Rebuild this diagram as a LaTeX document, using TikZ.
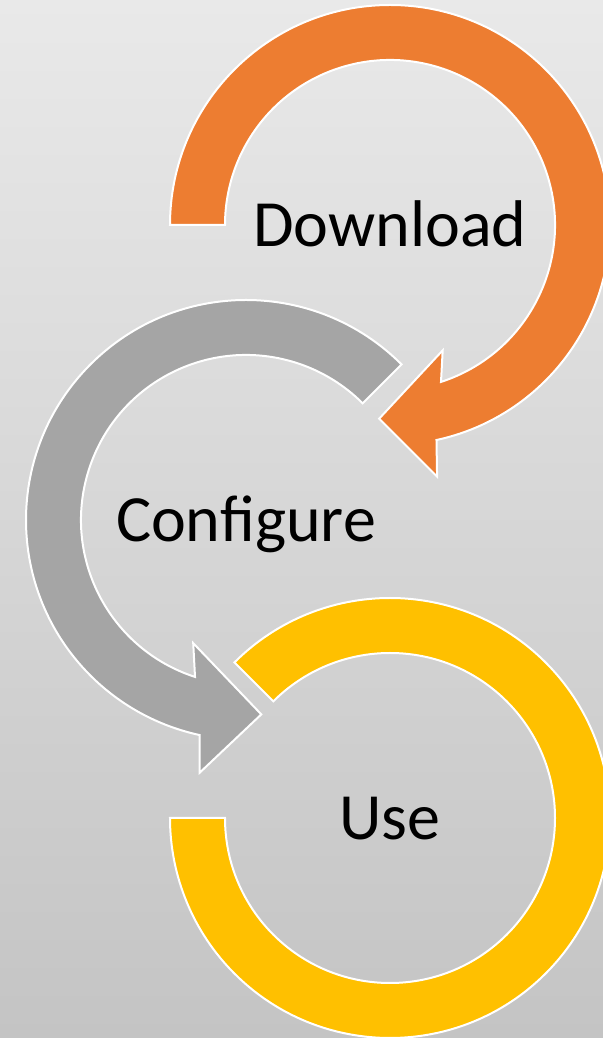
\documentclass[tikz,border=0pt]{standalone}
\usepackage{fontspec}
\setmainfont{Carlito}
\definecolor{dlorange}{HTML}{ED7D31}
\definecolor{cfgray}{HTML}{A5A5A5}
\definecolor{usyellow}{HTML}{FFC000}
\definecolor{bgtop}{HTML}{E9E9E9}
\definecolor{bgbottom}{HTML}{C4C4C4}

\begin{document}
\begin{tikzpicture}[x=0.5pt,y=0.5pt,
    ring/.style={fill=#1,draw=white,line width=1pt,line join=miter},
    ringtext/.style={font=\fontsize{33}{40}\selectfont,anchor=base,inner sep=0pt}]
    \useasboundingbox (0,0) rectangle (603,1038);
    \shade[top color=bgtop,bottom color=bgbottom] (0,0) rectangle (603,1038);
    \clip (0,0) rectangle (603,1038);
    \coordinate (dl) at (390,813);
    \coordinate (cf) at (246,518);
    \coordinate (us) at (390,220);
    \path[ring=dlorange] ([shift={(180:220)}]dl) arc[start angle=180,end angle=-77.8,radius=220]
        -- ([shift={(-79.4:256)}]dl) -- ([shift={(-93.2:194)}]dl) -- ([shift={(-67.2:136)}]dl)
        -- ([shift={(-72:165)}]dl) arc[start angle=-72,end angle=180,radius=165] -- cycle;
    \path[ring=cfgray] ([shift={(45:220)}]cf) arc[start angle=45,end angle=257.8,radius=220]
        -- ([shift={(259.6:257)}]cf) -- ([shift={(274.5:195)}]cf) -- ([shift={(246.8:134)}]cf)
        -- ([shift={(252:165)}]cf) arc[start angle=252,end angle=45,radius=165] -- cycle;
    \path[ring=usyellow] ([shift={(135:220)}]us) arc[start angle=135,end angle=-180,radius=220]
        -- ([shift={(180:165)}]us) arc[start angle=-180,end angle=135,radius=165] -- cycle;
    \node[ringtext] (download) at ([shift={(0,-22)}]dl) {Download};
    \node[ringtext] (configure) at ([shift={(0,-22)}]cf) {Configure};
    \node[ringtext] (use) at ([shift={(0,-22)}]us) {Use};
\end{tikzpicture}
\end{document}
